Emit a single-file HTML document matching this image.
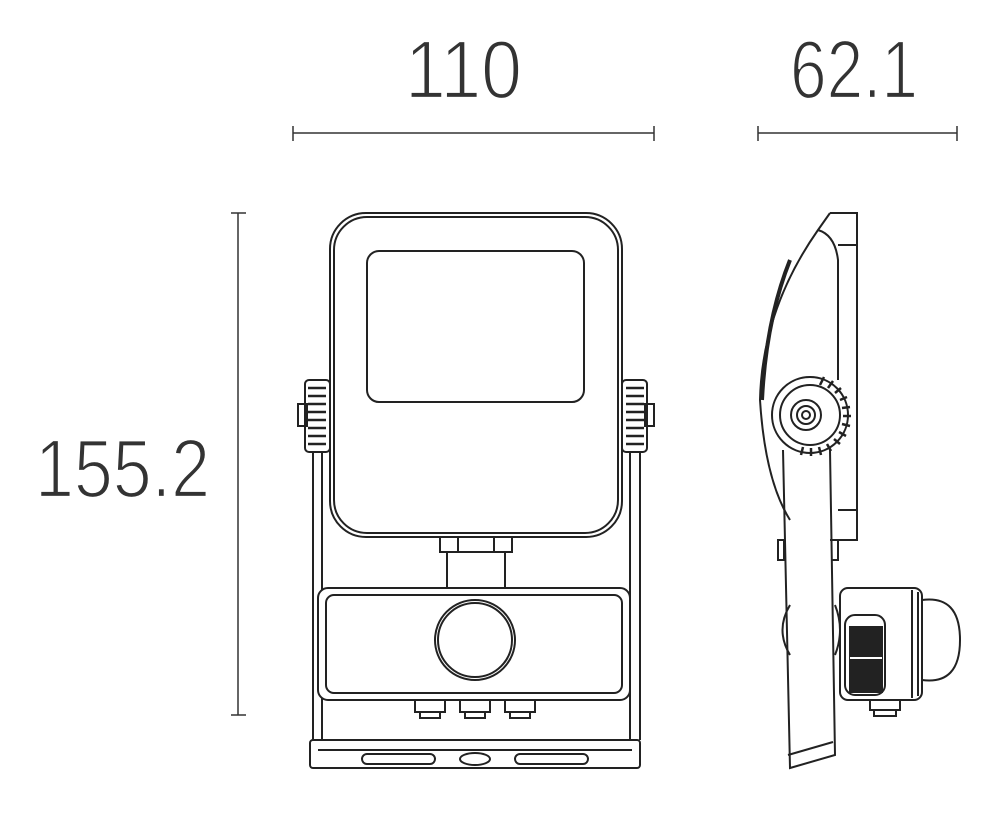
<!DOCTYPE html>
<html><head><meta charset="utf-8"><style>html,body{margin:0;padding:0;background:#fff}svg{display:block}</style></head>
<body>
<svg width="1000" height="818" viewBox="0 0 1000 818" xmlns="http://www.w3.org/2000/svg">
<g font-family="Liberation Sans, sans-serif" font-size="83" fill="#333" stroke="#fff" stroke-width="2.2">
<text x="405" y="98" textLength="117" lengthAdjust="spacingAndGlyphs">110</text>
<text x="790" y="98" textLength="128" lengthAdjust="spacingAndGlyphs">62.1</text>
<text x="35" y="497" textLength="175" lengthAdjust="spacingAndGlyphs">155.2</text>
</g>
<g stroke="#333" stroke-width="1.5" fill="none">
<line x1="293" y1="133" x2="654" y2="133"/><line x1="293" y1="126" x2="293" y2="141"/><line x1="654" y1="126" x2="654" y2="141"/>
<line x1="758" y1="133" x2="957" y2="133"/><line x1="758" y1="126" x2="758" y2="141"/><line x1="957" y1="126" x2="957" y2="141"/>
<line x1="238" y1="213" x2="238" y2="715"/><line x1="231" y1="213" x2="246" y2="213"/><line x1="231" y1="715" x2="246" y2="715"/>
</g>
<g stroke="#222" stroke-width="2" fill="none">
<path d="M313 452 V740 M322 452 V740 M630 452 V740 M640 452 V740"/>
<rect x="310" y="740" width="330" height="28" rx="3"/>
<line x1="318" y1="750" x2="632" y2="750"/>
<rect x="362" y="754" width="73" height="10" rx="5"/>
<rect x="515" y="754" width="73" height="10" rx="5"/>
<ellipse cx="475" cy="759" rx="15" ry="6"/>
<rect x="330" y="213" width="292" height="324" rx="36"/>
<rect x="334" y="217" width="284" height="316" rx="33"/>
<rect x="367" y="251" width="217" height="151" rx="12"/>
<rect x="305" y="380" width="25" height="72" rx="4" fill="#fff"/>
<rect x="298" y="404" width="9" height="22"/>
<path d="M308 388 h18 M308 396 h18 M308 404 h18 M308 412 h18 M308 420 h18 M308 428 h18 M308 436 h18 M308 444 h18" stroke-width="2.5"/>
<rect x="622" y="380" width="25" height="72" rx="4" fill="#fff"/>
<rect x="645" y="404" width="9" height="22"/>
<path d="M626 388 h18 M626 396 h18 M626 404 h18 M626 412 h18 M626 420 h18 M626 428 h18 M626 436 h18 M626 444 h18" stroke-width="2.5"/>
<rect x="440" y="537" width="72" height="15"/>
<line x1="458" y1="537" x2="458" y2="552"/><line x1="494" y1="537" x2="494" y2="552"/>
<path d="M447 552 V590 M505 552 V590"/>
<rect x="318" y="588" width="312" height="112" rx="10" fill="#fff"/>
<rect x="326" y="595" width="296" height="98" rx="8"/>
<circle cx="475" cy="640" r="40"/><circle cx="475" cy="640" r="37"/>
<path d="M415 700 v12 h30 v-12 M460 700 v12 h30 v-12 M505 700 v12 h30 v-12"/>
<path d="M420 712 v6 h20 v-6 M465 712 v6 h20 v-6 M510 712 v6 h20 v-6"/>
<path d="M830 213 H857 V540 H830"/>
<path d="M857 245 H838"/><path d="M857 510 H838"/>
<path d="M830 213 L818 230 Q762 310 760 400 Q765 480 790 520"/>
<path d="M818 230 Q835 235 838 260 V380"/>
<path d="M790 260 Q766 320 762 400" stroke-width="4"/>
<path d="M783 450 L790 768 L835 755 L830 450"/>
<path d="M788 755 L833 742"/>
<path d="M778 540 h6 v20 h-6 z"/>
<path d="M832 540 h6 v20 h-6"/>
<circle cx="810" cy="415" r="38" fill="#fff"/>
<circle cx="810" cy="415" r="30"/>
<circle cx="806" cy="415" r="15"/><circle cx="806" cy="415" r="9"/><circle cx="806" cy="415" r="4"/>
<path d="M820 385 l4 -8 M828 388 l5 -7 M835 393 l6 -5 M840 400 l7 -3 M842 408 l8 -1 M843 416 h8 M842 424 l8 2 M839 432 l7 4 M834 439 l6 5 M827 444 l4 7 M819 447 l2 8 M811 448 v8 M803 447 l-2 8" stroke-width="2.5"/>
<path d="M790 605 Q775 630 790 655 M835 605 Q845 630 835 655"/>
<rect x="840" y="588" width="82" height="112" rx="8" fill="#fff"/>
<line x1="912" y1="590" x2="912" y2="698"/><line x1="918" y1="592" x2="918" y2="696"/>
<path d="M922 600 Q960 595 960 640 Q960 685 922 680"/>
<rect x="845" y="615" width="40" height="80" rx="10" fill="#fff"/>
<rect x="850" y="627" width="32" height="65" fill="#222"/>
<line x1="850" y1="658" x2="882" y2="658" stroke="#fff"/>
<path d="M870 700 v10 h30 v-10 M874 710 v6 h22 v-6"/>
</g>
</svg>
</body></html>
